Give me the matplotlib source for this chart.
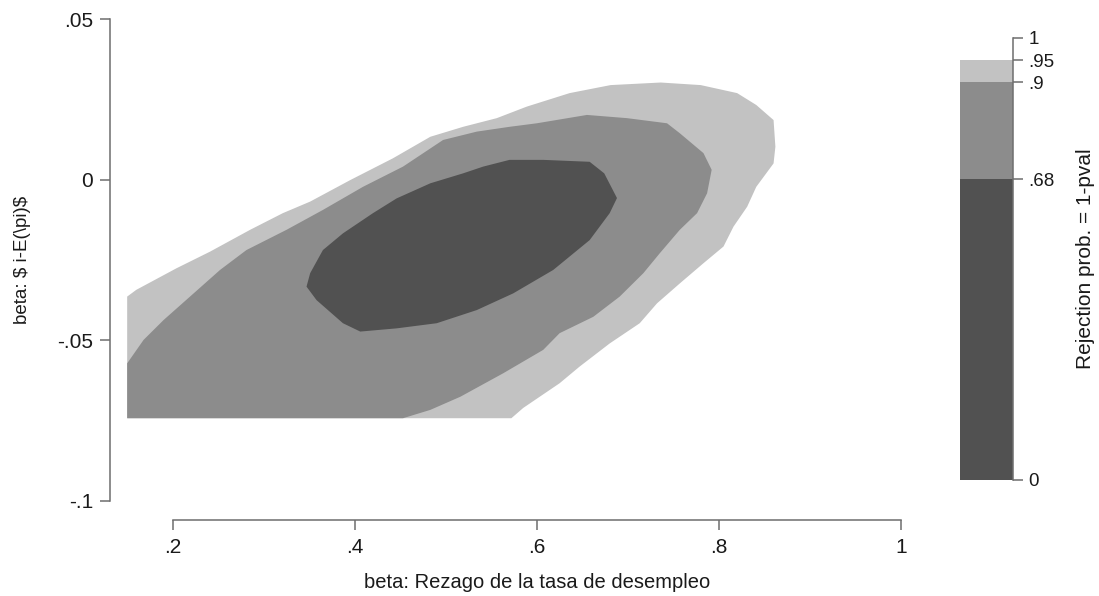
import matplotlib
matplotlib.use("Agg")
import matplotlib.pyplot as plt

# ---------------- data ----------------
# contour region outlines (beta_u, beta_pi)
light_x = [0.150, 0.150, 0.160, 0.204, 0.241, 0.285, 0.321, 0.351, 0.395, 0.442, 0.483, 0.519,
           0.556, 0.589, 0.636, 0.681, 0.736, 0.780, 0.820, 0.841, 0.860, 0.862, 0.860, 0.841,
           0.831, 0.816, 0.805, 0.783, 0.757, 0.732, 0.713, 0.680, 0.647, 0.625, 0.585, 0.572]
light_y = [-0.0743, -0.0364, -0.0343, -0.0276, -0.0224, -0.0156, -0.0104, -0.0068, -0.0001, 0.0067,
           0.0134, 0.0165, 0.0192, 0.0228, 0.0270, 0.0295, 0.0303, 0.0295, 0.0270, 0.0233, 0.0186,
           0.0103, 0.0051, -0.0022, -0.0084, -0.0146, -0.0208, -0.0260, -0.0323, -0.0385, -0.0447,
           -0.0510, -0.0582, -0.0634, -0.0711, -0.0743]

mid_x = [0.150, 0.150, 0.168, 0.190, 0.223, 0.252, 0.281, 0.325, 0.365, 0.409, 0.453, 0.497,
         0.534, 0.570, 0.600, 0.655, 0.699, 0.743, 0.757, 0.783, 0.792, 0.787, 0.776, 0.757,
         0.735, 0.717, 0.691, 0.662, 0.625, 0.607, 0.563, 0.516, 0.483, 0.453]
mid_y = [-0.0743, -0.0572, -0.0499, -0.0437, -0.0354, -0.0281, -0.0219, -0.0156, -0.0094, -0.0022,
         0.0041, 0.0124, 0.0150, 0.0165, 0.0176, 0.0202, 0.0192, 0.0176, 0.0145, 0.0083, 0.0031,
         -0.0042, -0.0104, -0.0156, -0.0229, -0.0291, -0.0364, -0.0427, -0.0478, -0.0530, -0.0603,
         -0.0676, -0.0717, -0.0743]

dark_x = [0.347, 0.351, 0.365, 0.387, 0.420, 0.446, 0.483, 0.519, 0.541, 0.570, 0.607, 0.658,
          0.674, 0.688, 0.680, 0.658, 0.618, 0.574, 0.534, 0.490, 0.446, 0.406, 0.387, 0.358]
dark_y = [-0.0333, -0.0291, -0.0219, -0.0167, -0.0104, -0.0058, -0.0011, 0.0020, 0.0041, 0.0062,
          0.0062, 0.0056, 0.0020, -0.0057, -0.0104, -0.0188, -0.0281, -0.0354, -0.0406, -0.0447,
          -0.0463, -0.0473, -0.0447, -0.0375]

levels = [0, 0.68, 0.9, 0.95, 1]
level_labels = ["0", ".68", ".9", ".95", "1"]
band_colors = ["#515151", "#8c8c8c", "#c2c2c2", "#ffffff"]

xticks = [0.2, 0.4, 0.6, 0.8, 1.0]
xtick_labels = [".2", ".4", ".6", ".8", "1"]
yticks = [-0.1, -0.05, 0.0, 0.05]
ytick_labels = ["-.1", "-.05", "0", ".05"]

xlabel = "beta: Rezago de la tasa de desempleo"
ylabel = "beta: \\$ i-E(\\pi)\\$"
cbar_label = "Rejection prob. = 1-pval"

# ---------------- layout ----------------
plt.rcParams["font.family"] = ["Liberation Sans", "DejaVu Sans"]
W, H = 1099, 596
fig = plt.figure(figsize=(W / 100, H / 100), dpi=100)


def rect(l, t, r, b):
    return [l / W, 1 - b / H, (r - l) / W, (b - t) / H]


axis_col = "#6e6e6e"
text_col = "#1a1a1a"
tick_len = 7.2
tick_w = 1.1

# main axes: pixel mapping x: .2 -> 172.7, 1 -> 901 ; y: .05 -> 19.3, -.1 -> 500.7
ax = fig.add_axes(rect(110, 19.3, 920, 500.7))
x0 = 0.2 + (110 - 172.7) / 910.4
x1 = 0.2 + (920 - 172.7) / 910.4
ax.set_xlim(x0, x1)
ax.set_ylim(-0.1, 0.05)

ax.fill(light_x, light_y, color=band_colors[2], lw=0)
ax.fill(mid_x, mid_y, color=band_colors[1], lw=0)
ax.fill(dark_x, dark_y, color=band_colors[0], lw=0)

for s in ["top", "right"]:
    ax.spines[s].set_visible(False)
ax.spines["left"].set_bounds(-0.1, 0.05)
ax.spines["bottom"].set_bounds(xticks[0], xticks[-1])
ax.spines["bottom"].set_position(("outward", 13.9))
for s in ["left", "bottom"]:
    ax.spines[s].set_color(axis_col)
    ax.spines[s].set_linewidth(tick_w)

ax.set_xticks(xticks)
ax.set_xticklabels(xtick_labels)
ax.set_yticks(yticks)
ax.set_yticklabels(ytick_labels)
ax.tick_params(axis="both", direction="out", length=tick_len, width=tick_w,
               color=axis_col, labelcolor=text_col, labelsize=15)
ax.tick_params(axis="x", pad=6)
ax.tick_params(axis="y", pad=5)
ax.set_xlabel(xlabel, fontsize=14.5, color=text_col)
ax.xaxis.set_label_coords(((xticks[0] + xticks[-1]) / 2 - x0) / (x1 - x0), -0.15)
ax.set_ylabel(ylabel, fontsize=13.5, color=text_col)
ax.yaxis.set_label_coords(-0.097, 0.5)
ax.set_facecolor("white")

# colorbar axes: 0 -> 480, 1 -> 38
cax = fig.add_axes(rect(960, 38, 1013, 480))
cax.set_xlim(0, 1)
cax.set_ylim(0, 1)
for i in range(len(band_colors)):
    cax.bar(0.5, levels[i + 1] - levels[i], bottom=levels[i], width=1.0,
            color=band_colors[i], lw=0)
for s in ["top", "left", "bottom"]:
    cax.spines[s].set_visible(False)
cax.spines["right"].set_color(axis_col)
cax.spines["right"].set_linewidth(tick_w)
cax.set_xticks([])
cax.yaxis.tick_right()
cax.yaxis.set_label_position("right")
cax.set_yticks(levels)
cax.set_yticklabels(level_labels)
cax.tick_params(axis="y", direction="out", length=tick_len, width=tick_w,
                color=axis_col, labelcolor=text_col, labelsize=13.5, pad=4)
cax.set_ylabel(cbar_label, fontsize=15, color=text_col, labelpad=15)

fig.savefig("out.png", dpi=100, facecolor="white")
